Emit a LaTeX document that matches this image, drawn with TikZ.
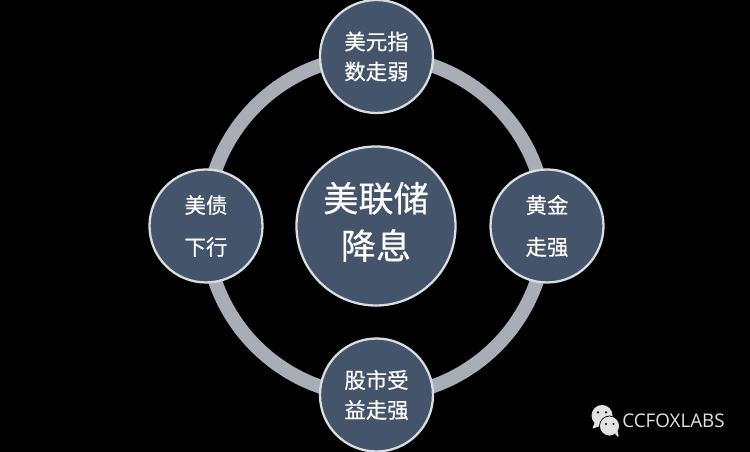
\documentclass[tikz,border=0pt]{standalone}
\usepackage{fontspec}
\setmainfont{Noto Sans CJK SC}
\newfontfamily\cnfont[FakeBold=0.5]{Noto Sans CJK SC}
\newfontfamily\logofont{Open Sans}
\usepackage{xcolor}
\usepackage{tikz}
\definecolor{bgblack}{HTML}{000000}
\definecolor{ringgray}{HTML}{A9ADB5}
\definecolor{discblue}{HTML}{44546A}
\definecolor{discedge}{HTML}{D9DCE0}
\definecolor{logogray}{HTML}{E2E2E2}
\tikzset{
    disc/.style={circle, draw=discedge, line width=1.3pt, fill=discblue, text=white, inner sep=0pt, align=center},
    smalldisc/.style={disc, minimum size=2.26cm, font=\cnfont\fontsize{12.2}{17}\selectfont},
    bigdisc/.style={disc, minimum size=3.18cm, font=\cnfont\fontsize{20}{27}\selectfont}
}

\begin{document}
\begin{tikzpicture}
    \fill[bgblack] (0,0) rectangle (15,9.04);
    \useasboundingbox (0,0) rectangle (15,9.04);
    %
    \draw[ringgray, line width=0.28cm] (7.52,4.52) circle (3.4);
    %
    \node[bigdisc] (fed) at (7.52,4.52) {美联储\\降息\rule[-0.22cm]{0pt}{0.22cm}};
    \node[smalldisc] (dollar) at (7.53,7.91) {美元指\\数走弱};
    \node[smalldisc] (gold) at (10.94,4.52) {黄金\\[0.24cm]走强};
    \node[smalldisc] (stock) at (7.53,1.14) {股市受\\益走强};
    \node[smalldisc] (bond) at (4.12,4.52) {美债\\[0.24cm]下行};
    %
    \node[text=logogray, anchor=west, inner sep=0pt, font=\logofont\fontsize{10.7}{14}\selectfont] (logo) at (12.44,0.63) {CCFOXLABS};
    %
    \fill[logogray] (12.04,0.73) circle (0.21);
    \fill[logogray] (11.89,0.58) -- (11.85,0.47) -- (12.02,0.52) -- cycle;
    \fill[bgblack] (11.96,0.79) circle (0.025);
    \fill[bgblack] (12.12,0.79) circle (0.025);
    \filldraw[logogray, draw=bgblack, line width=0.4pt] (12.19,0.52) circle (0.2);
    \fill[logogray] (12.3,0.36) -- (12.37,0.29) -- (12.36,0.42) -- cycle;
    \fill[bgblack] (12.12,0.56) circle (0.022);
    \fill[bgblack] (12.27,0.56) circle (0.022);
\end{tikzpicture}
\end{document}
